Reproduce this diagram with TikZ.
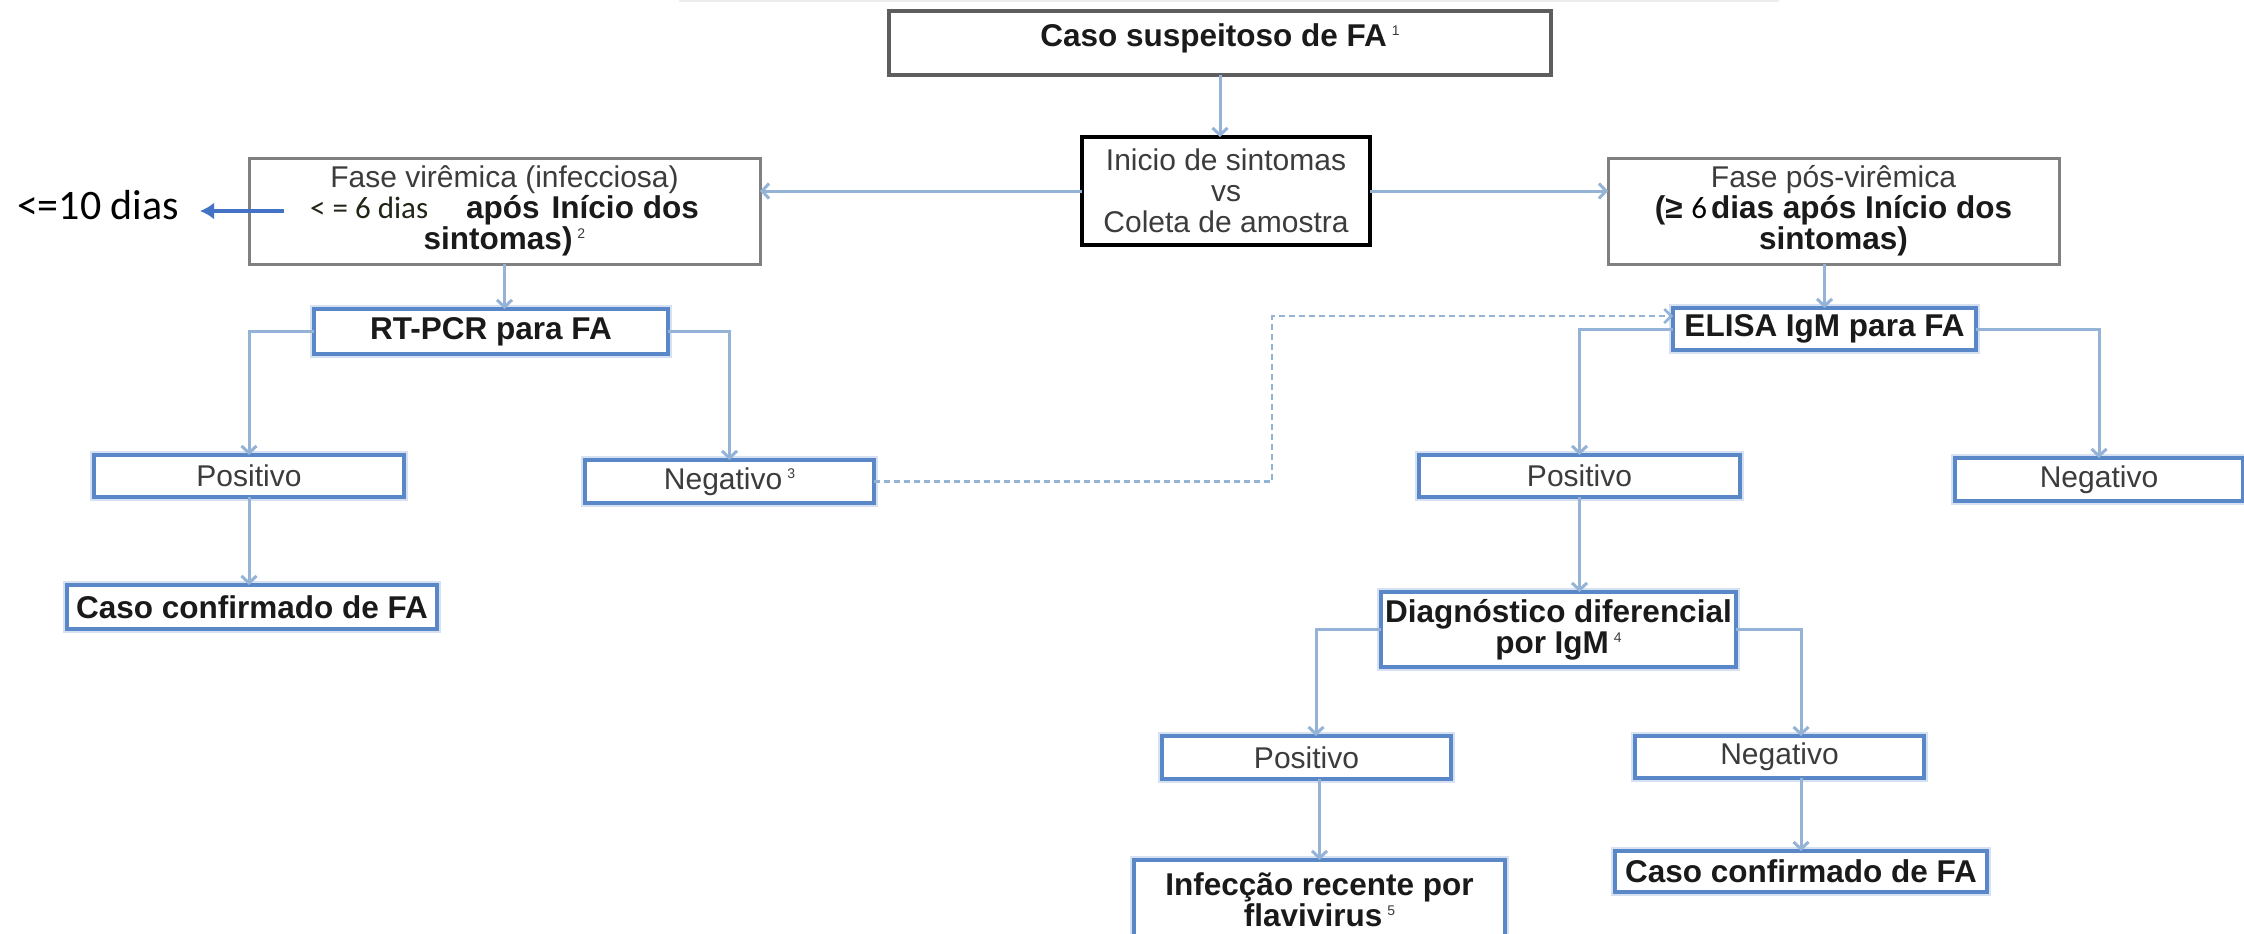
\documentclass[tikz,border=0pt]{standalone}
\usepackage{fontspec}
\setmainfont{Liberation Sans}
\newfontfamily\calfont{Carlito}
\usetikzlibrary{arrows.meta}
\definecolor{boxblue}{HTML}{5A87C8}
\definecolor{halo}{HTML}{D6E2F2}
\definecolor{conn}{HTML}{95B3D7}
\definecolor{txtgray}{HTML}{3C3C3C}
\definecolor{txtdark}{HTML}{1A1A1A}
\definecolor{arrblue}{HTML}{4472C4}
\definecolor{topgray}{HTML}{5E5E5E}
\definecolor{fasegray}{HTML}{808080}
\definecolor{calgreen}{HTML}{1E2616}
\newcommand\supn[1]{\hspace{5pt}\raisebox{11pt}{\fontsize{14}{14}\selectfont\mdseries #1}}
\newcommand\bd[1]{{\fontsize{31.5}{31}\selectfont\textbf{\color{txtdark}#1}}}
\newcommand\calsix[1]{{\calfont\fontsize{31}{31}\selectfont #1}}
\begin{document}
\begin{tikzpicture}[x=1pt,y=-1pt,
  every node/.style={inner sep=0pt, outer sep=0pt, align=center, text=txtgray,
    font=\fontsize{30}{31}\selectfont},
  bluebox/.style={draw=boxblue, line width=3.5pt, fill=white,
    preaction={draw=halo, line width=7.5pt}},
  topbox/.style={draw=topgray, line width=4pt, fill=white},
  blackbox/.style={draw=black, line width=4.5pt, fill=white},
  fasebox/.style={draw=fasegray, line width=3pt, fill=white},
  conn/.style={draw=conn, line width=3pt, -{Straight Barb[length=7pt,width=15pt]}},
  dashconn/.style={draw=conn, line width=2.5pt, dash pattern=on 6pt off 4pt,
    -{Straight Barb[length=7pt,width=14pt]}},
  bluearrow/.style={draw=arrblue, line width=4pt, -{Latex[length=14pt,width=17pt]}}
]
\fill[white] (0,0) rectangle (2244,934);
\useasboundingbox (0,0) rectangle (2244,934);
\draw[line width=2pt, black!7] (679,1) -- (1779,1);

% nodes
\node[topbox, minimum width=662pt, minimum height=64pt, text height=21.4pt, text depth=14pt]
  (caso) at (1220,43) {\bd{Caso suspeitoso de FA}\supn{1}};
\node[blackbox, minimum width=288pt, minimum height=108pt] (inicio) at (1226,191)
  {Inicio de sintomas\\vs\\Coleta de amostra};
\node[fasebox, minimum width=511pt, minimum height=106pt] (viremica) at (504.5,211)
  {Fase virêmica (infecciosa)\\{\color{calgreen}\calsix{< = 6 dias}}\hspace{38pt}\bd{após\hspace{12pt}Início dos}\\\bd{sintomas)}\supn{2}};
\node[fasebox, minimum width=451pt, minimum height=106pt] (posviremica) at (1833.5,211)
  {Fase pós-virêmica\\\bd{(≥ }\calsix{\color{black}6}\hspace{4pt}\bd{dias após Início dos}\\\bd{sintomas)}};

\node[bluebox, minimum width=354pt, minimum height=45pt] (rtpcr) at (491,331.5) {\bd{RT-PCR para FA}};
\node[bluebox, minimum width=310pt, minimum height=42pt] (pos1) at (249,476) {Positivo};
\node[bluebox, minimum width=289pt, minimum height=43pt] (neg1) at (729.5,481.5) {Negativo\supn{3}};
\node[bluebox, minimum width=370pt, minimum height=44pt] (conf1) at (252,607) {\bd{Caso confirmado de FA}};

\node[bluebox, minimum width=303pt, minimum height=42pt] (elisa) at (1824.5,329) {\bd{ELISA IgM para FA}};
\node[bluebox, minimum width=321pt, minimum height=42pt] (pos2) at (1579.5,476) {Positivo};
\node[bluebox, minimum width=288pt, minimum height=43pt] (neg2) at (2099,479.5) {Negativo};
\node[bluebox, minimum width=355pt, minimum height=75pt] (diag) at (1558.5,629.5)
  {\bd{Diagnóstico diferencial}\\\bd{por IgM}\supn{4}};
\node[bluebox, minimum width=289pt, minimum height=43pt] (pos3) at (1306.5,757.5) {Positivo};
\node[bluebox, minimum width=289pt, minimum height=42pt] (neg3) at (1779.5,757) {Negativo};
\node[bluebox, minimum width=371pt, minimum height=80pt] (inf) at (1319.5,900)
  {\bd{Infecção recente por}\\\bd{flavivirus}\supn{5}};
\node[bluebox, minimum width=372pt, minimum height=41pt] (conf2) at (1801,871.5) {\bd{Caso confirmado de FA}};

\node[anchor=west, text=black, font=\calfont\fontsize{42}{42}\selectfont] (lt10) at (17,205) {<=10 dias};
\coordinate (a10) at (284,211);
\coordinate (b10) at (200,211);

% connectors
\draw[conn] (caso.south) -- (caso.south |- inicio.north);
\draw[conn] (inicio.west) -- (inicio.west -| viremica.east);
\draw[conn] (inicio.east) -- (inicio.east -| posviremica.west);
\draw[conn] (viremica.south) -- (viremica.south |- rtpcr.north);
\draw[conn] (elisa.north |- posviremica.south) -- (elisa.north);
\draw[conn] (rtpcr.west) -| (pos1.north);
\draw[conn] (rtpcr.east) -| (neg1.north);
\draw[conn] (pos1.south) -- (pos1.south |- conf1.north);
\coordinate (dk) at (1272,481.5);
\draw[dashconn] (neg1.east) -- (dk) |- ([yshift=13pt]elisa.west);
\draw[conn] (elisa.west) -| (pos2.north);
\draw[conn] (elisa.east) -| (neg2.north);
\draw[conn] (pos2.south) -- (pos2.south |- diag.north);
\draw[conn] (diag.west) -| ([xshift=9.5pt]pos3.north);
\draw[conn] (diag.east) -| ([xshift=21.5pt]neg3.north);
\draw[conn] (inf.north |- pos3.south) -- (inf.north);
\draw[conn] (conf2.north |- neg3.south) -- (conf2.north);
\draw[bluearrow] (a10) -- (b10);
\end{tikzpicture}
\end{document}
